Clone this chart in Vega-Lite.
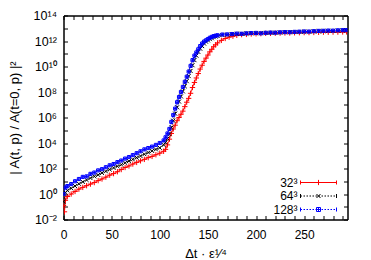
{
  "$schema": "https://vega.github.io/schema/vega-lite/v6.json",
  "width": 284,
  "height": 204,
  "autosize": "none",
  "padding": {"left": 63.5, "top": 15.5, "right": 23.5, "bottom": 40.5},
  "config": {
    "font": "Liberation Sans",
    "view": {"stroke": "#000", "strokeWidth": 1},
    "axis": {"grid": false, "domainColor": "#000", "tickColor": "#000", "labelColor": "#000", "titleColor": "#000", "labelFontSize": 12, "titleFontSize": 13, "titleFontWeight": "normal", "tickSize": -4}
  },
  "datasets": {
    "curves": [
      {"s":"32³","t":0,"a":0.126},{"s":"32³","t":1,"a":0.04},{"s":"32³","t":2,"a":0.32},{"s":"32³","t":4,"a":0.63},{"s":"32³","t":8,"a":1.0},{"s":"32³","t":12,"a":1.58},{"s":"32³","t":16,"a":2.4},{"s":"32³","t":20,"a":3.3},{"s":"32³","t":24,"a":4.5},{"s":"32³","t":28,"a":6.0},{"s":"32³","t":32,"a":7.9},{"s":"32³","t":36,"a":11.2},{"s":"32³","t":40,"a":15.1},{"s":"32³","t":44,"a":21},{"s":"32³","t":48,"a":30},{"s":"32³","t":52,"a":40},{"s":"32³","t":56,"a":56},{"s":"32³","t":60,"a":83},{"s":"32³","t":64,"a":120},{"s":"32³","t":68,"a":158},{"s":"32³","t":72,"a":224},{"s":"32³","t":76,"a":300},{"s":"32³","t":80,"a":400},{"s":"32³","t":84,"a":520},{"s":"32³","t":88,"a":710},{"s":"32³","t":92,"a":890},{"s":"32³","t":96,"a":1200},{"s":"32³","t":100,"a":1580},{"s":"32³","t":104,"a":2240},{"s":"32³","t":106,"a":3160},{"s":"32³","t":108,"a":7100},{"s":"32³","t":110,"a":2.0e4},{"s":"32³","t":112,"a":5.6e4},{"s":"32³","t":114,"a":1.26e5},{"s":"32³","t":116,"a":2.5e5},{"s":"32³","t":118,"a":5.6e5},{"s":"32³","t":120,"a":1.0e6},{"s":"32³","t":122,"a":1.78e6},{"s":"32³","t":124,"a":3.16e6},{"s":"32³","t":126,"a":7.1e6},{"s":"32³","t":128,"a":1.58e7},{"s":"32³","t":130,"a":3.16e7},{"s":"32³","t":132,"a":7.9e7},{"s":"32³","t":134,"a":2.24e8},{"s":"32³","t":136,"a":5.6e8},{"s":"32³","t":138,"a":1.26e9},{"s":"32³","t":140,"a":2.8e9},{"s":"32³","t":142,"a":6.3e9},{"s":"32³","t":144,"a":1.26e10},{"s":"32³","t":146,"a":2.5e10},{"s":"32³","t":148,"a":4.5e10},{"s":"32³","t":150,"a":7.9e10},{"s":"32³","t":152,"a":1.41e11},{"s":"32³","t":154,"a":2.24e11},{"s":"32³","t":156,"a":3.55e11},{"s":"32³","t":158,"a":5.0e11},{"s":"32³","t":160,"a":7.1e11},{"s":"32³","t":164,"a":1.12e12},{"s":"32³","t":168,"a":1.58e12},{"s":"32³","t":172,"a":2.0e12},{"s":"32³","t":176,"a":2.4e12},{"s":"32³","t":180,"a":2.8e12},{"s":"32³","t":185,"a":3.16e12},{"s":"32³","t":190,"a":3.3e12},{"s":"32³","t":195,"a":3.55e12},{"s":"32³","t":200,"a":3.7e12},{"s":"32³","t":205,"a":3.8e12},{"s":"32³","t":210,"a":4.0e12},{"s":"32³","t":215,"a":4.0e12},{"s":"32³","t":220,"a":4.1e12},{"s":"32³","t":225,"a":4.2e12},{"s":"32³","t":230,"a":4.3e12},{"s":"32³","t":235,"a":4.3e12},{"s":"32³","t":240,"a":4.4e12},{"s":"32³","t":245,"a":4.5e12},{"s":"32³","t":250,"a":4.6e12},{"s":"32³","t":255,"a":4.6e12},{"s":"32³","t":260,"a":4.7e12},{"s":"32³","t":265,"a":4.8e12},{"s":"32³","t":270,"a":4.9e12},{"s":"32³","t":275,"a":4.9e12},{"s":"32³","t":280,"a":5.0e12},{"s":"32³","t":285,"a":5.0e12},{"s":"32³","t":290,"a":5.1e12},{"s":"32³","t":294,"a":5.2e12},
      {"s":"64³","t":0,"a":0.25},{"s":"64³","t":2,"a":1.26},{"s":"64³","t":4,"a":1.9},{"s":"64³","t":8,"a":2.8},{"s":"64³","t":12,"a":4.2},{"s":"64³","t":16,"a":6.3},{"s":"64³","t":20,"a":8.9},{"s":"64³","t":24,"a":12.6},{"s":"64³","t":28,"a":17.8},{"s":"64³","t":32,"a":24},{"s":"64³","t":36,"a":31.6},{"s":"64³","t":40,"a":45},{"s":"64³","t":44,"a":60},{"s":"64³","t":48,"a":83},{"s":"64³","t":52,"a":112},{"s":"64³","t":56,"a":151},{"s":"64³","t":60,"a":200},{"s":"64³","t":64,"a":280},{"s":"64³","t":68,"a":380},{"s":"64³","t":72,"a":520},{"s":"64³","t":76,"a":710},{"s":"64³","t":80,"a":950},{"s":"64³","t":84,"a":1320},{"s":"64³","t":88,"a":1780},{"s":"64³","t":92,"a":2400},{"s":"64³","t":96,"a":3160},{"s":"64³","t":100,"a":4200},{"s":"64³","t":104,"a":7100},{"s":"64³","t":106,"a":1.12e4},{"s":"64³","t":108,"a":2.24e4},{"s":"64³","t":110,"a":5.0e4},{"s":"64³","t":112,"a":1.58e5},{"s":"64³","t":114,"a":5.6e5},{"s":"64³","t":116,"a":2.0e6},{"s":"64³","t":118,"a":6.3e6},{"s":"64³","t":120,"a":1.78e7},{"s":"64³","t":122,"a":4.5e7},{"s":"64³","t":124,"a":1.12e8},{"s":"64³","t":126,"a":2.8e8},{"s":"64³","t":128,"a":7.1e8},{"s":"64³","t":130,"a":1.78e9},{"s":"64³","t":132,"a":4.5e9},{"s":"64³","t":134,"a":1.26e10},{"s":"64³","t":136,"a":3.16e10},{"s":"64³","t":138,"a":7.1e10},{"s":"64³","t":140,"a":1.41e11},{"s":"64³","t":142,"a":2.5e11},{"s":"64³","t":144,"a":4.0e11},{"s":"64³","t":146,"a":6.3e11},{"s":"64³","t":148,"a":8.9e11},{"s":"64³","t":150,"a":1.12e12},{"s":"64³","t":152,"a":1.41e12},{"s":"64³","t":154,"a":1.66e12},{"s":"64³","t":156,"a":2.0e12},{"s":"64³","t":158,"a":2.24e12},{"s":"64³","t":160,"a":2.5e12},{"s":"64³","t":165,"a":2.95e12},{"s":"64³","t":170,"a":3.16e12},{"s":"64³","t":175,"a":3.4e12},{"s":"64³","t":180,"a":3.6e12},{"s":"64³","t":185,"a":3.7e12},{"s":"64³","t":190,"a":3.8e12},{"s":"64³","t":195,"a":4.0e12},{"s":"64³","t":200,"a":4.1e12},{"s":"64³","t":205,"a":4.1e12},{"s":"64³","t":210,"a":4.3e12},{"s":"64³","t":215,"a":4.4e12},{"s":"64³","t":220,"a":4.5e12},{"s":"64³","t":225,"a":4.6e12},{"s":"64³","t":230,"a":4.8e12},{"s":"64³","t":235,"a":4.9e12},{"s":"64³","t":240,"a":5.0e12},{"s":"64³","t":245,"a":5.2e12},{"s":"64³","t":250,"a":5.3e12},{"s":"64³","t":255,"a":5.4e12},{"s":"64³","t":260,"a":5.6e12},{"s":"64³","t":265,"a":5.8e12},{"s":"64³","t":270,"a":6.0e12},{"s":"64³","t":275,"a":6.2e12},{"s":"64³","t":280,"a":6.3e12},{"s":"64³","t":285,"a":6.5e12},{"s":"64³","t":290,"a":6.8e12},{"s":"64³","t":294,"a":6.9e12},
      {"s":"128³","t":0,"a":1.0},{"s":"128³","t":2,"a":3.2},{"s":"128³","t":4,"a":4.2},{"s":"128³","t":8,"a":6.0},{"s":"128³","t":12,"a":10},{"s":"128³","t":16,"a":15},{"s":"128³","t":20,"a":22},{"s":"128³","t":24,"a":24},{"s":"128³","t":28,"a":38},{"s":"128³","t":32,"a":48},{"s":"128³","t":36,"a":71},{"s":"128³","t":40,"a":89},{"s":"128³","t":44,"a":126},{"s":"128³","t":48,"a":178},{"s":"128³","t":52,"a":224},{"s":"128³","t":56,"a":316},{"s":"128³","t":60,"a":420},{"s":"128³","t":64,"a":600},{"s":"128³","t":68,"a":790},{"s":"128³","t":72,"a":1120},{"s":"128³","t":76,"a":1580},{"s":"128³","t":80,"a":2240},{"s":"128³","t":84,"a":3160},{"s":"128³","t":88,"a":4000},{"s":"128³","t":92,"a":5200},{"s":"128³","t":96,"a":7100},{"s":"128³","t":100,"a":1.0e4},{"s":"128³","t":104,"a":1.58e4},{"s":"128³","t":106,"a":2.8e4},{"s":"128³","t":108,"a":5.6e4},{"s":"128³","t":110,"a":1.26e5},{"s":"128³","t":112,"a":4.5e5},{"s":"128³","t":114,"a":1.58e6},{"s":"128³","t":116,"a":5.0e6},{"s":"128³","t":118,"a":1.58e7},{"s":"128³","t":120,"a":4.0e7},{"s":"128³","t":122,"a":1.0e8},{"s":"128³","t":124,"a":2.5e8},{"s":"128³","t":126,"a":6.3e8},{"s":"128³","t":128,"a":1.58e9},{"s":"128³","t":130,"a":4.0e9},{"s":"128³","t":132,"a":1.12e10},{"s":"128³","t":134,"a":3.16e10},{"s":"128³","t":136,"a":7.1e10},{"s":"128³","t":138,"a":1.26e11},{"s":"128³","t":140,"a":2.24e11},{"s":"128³","t":142,"a":4.0e11},{"s":"128³","t":144,"a":6.3e11},{"s":"128³","t":146,"a":8.9e11},{"s":"128³","t":148,"a":1.12e12},{"s":"128³","t":150,"a":1.41e12},{"s":"128³","t":152,"a":1.78e12},{"s":"128³","t":154,"a":2.1e12},{"s":"128³","t":156,"a":2.4e12},{"s":"128³","t":158,"a":2.6e12},{"s":"128³","t":160,"a":2.8e12},{"s":"128³","t":165,"a":3.2e12},{"s":"128³","t":170,"a":3.3e12},{"s":"128³","t":175,"a":3.5e12},{"s":"128³","t":180,"a":3.8e12},{"s":"128³","t":185,"a":3.7e12},{"s":"128³","t":190,"a":4.0e12},{"s":"128³","t":195,"a":4.2e12},{"s":"128³","t":200,"a":4.3e12},{"s":"128³","t":205,"a":4.0e12},{"s":"128³","t":210,"a":4.4e12},{"s":"128³","t":215,"a":4.6e12},{"s":"128³","t":220,"a":4.5e12},{"s":"128³","t":225,"a":4.8e12},{"s":"128³","t":230,"a":5.0e12},{"s":"128³","t":235,"a":4.9e12},{"s":"128³","t":240,"a":5.2e12},{"s":"128³","t":245,"a":5.4e12},{"s":"128³","t":250,"a":5.6e12},{"s":"128³","t":255,"a":5.5e12},{"s":"128³","t":260,"a":5.9e12},{"s":"128³","t":265,"a":6.2e12},{"s":"128³","t":270,"a":6.3e12},{"s":"128³","t":275,"a":6.6e12},{"s":"128³","t":280,"a":6.5e12},{"s":"128³","t":285,"a":6.9e12},{"s":"128³","t":290,"a":7.1e12},{"s":"128³","t":294,"a":7.2e12}
    ]
  },
  "data": {"name": "curves"},
  "layer": [
    {
      "mark": {"type": "line", "strokeWidth": 1, "clip": true},
      "encoding": {
        "x": {"field": "t", "type": "quantitative", "scale": {"domain": [0, 295], "nice": false, "zero": false},
          "axis": {"orient": "bottom", "values": [0,10,20,30,40,50,60,70,80,90,100,110,120,130,140,150,160,170,180,190,200,210,220,230,240,250,260,270,280,290],
            "labelExpr": "datum.value % 50 == 0 ? datum.label : ''", "labelFlush": false, "labelPadding": 14,
            "title": "Δt · ε¹⁄⁴", "titleY": 38, "titleBaseline": "alphabetic"}},
        "y": {"field": "a", "type": "quantitative", "scale": {"type": "log", "domain": [0.01, 1e14], "nice": false},
          "axis": {"orient": "left", "values": [0.01,0.1,1,10,100,1000,1e4,1e5,1e6,1e7,1e8,1e9,1e10,1e11,1e12,1e13,1e14],
            "labelExpr": "abs(round(log(datum.value)/LN10)) % 2 == 1 ? '' : '10' + replace(replace(replace(replace(replace(replace(replace('' + round(log(datum.value)/LN10), '-', '⁻'), '0', '⁰'), '1', '¹'), '2', '²'), '4', '⁴'), '6', '⁶'), '8', '⁸')",
            "labelPadding": 11, "labelFlush": false, "labelFontSize": 12.5,
            "title": "| A(t, p) / A(t=0, p) |²", "titleX": -49, "titleY": 102, "titleAlign": "center", "titleBaseline": "middle"}},
        "color": {"field": "s", "type": "nominal", "scale": {"domain": ["32³","64³","128³"], "range": ["#ff0000","#000000","#0000ff"]}, "legend": null},
        "strokeDash": {"field": "s", "type": "nominal", "scale": {"domain": ["32³","64³","128³"], "range": [[1,0],[1.5,1.5],[1.5,1.5]]}, "legend": null}
      }
    },
    {
      "mark": {"type": "point", "filled": false, "strokeWidth": 1, "size": 20, "opacity": 1, "clip": true},
      "encoding": {
        "x": {"field": "t", "type": "quantitative", "axis": {"orient": "top", "values": [0,10,20,30,40,50,60,70,80,90,100,110,120,130,140,150,160,170,180,190,200,210,220,230,240,250,260,270,280,290], "labels": false, "title": null}},
        "y": {"field": "a", "type": "quantitative", "axis": {"orient": "right", "values": [0.01,0.1,1,10,100,1000,1e4,1e5,1e6,1e7,1e8,1e9,1e10,1e11,1e12,1e13,1e14], "labels": false, "title": null}},
        "color": {"field": "s", "type": "nominal", "scale": {"domain": ["32³","64³","128³"], "range": ["#ff0000","#000000","#0000ff"]}, "legend": null},
        "shape": {"field": "s", "type": "nominal", "scale": {"domain": ["32³","64³","128³"], "range": ["M-1.2,0H1.2M0,-1.2V1.2", "M-0.9,-0.9L0.9,0.9M-0.9,0.9L0.9,-0.9", "M-0.7,-0.7H0.7V0.7H-0.7ZM-0.7,0H0.7M0,-0.7V0.7"]}, "legend": null}
      }
    },
    {
      "transform": [{"filter": "datum.t == 0"}],
      "mark": {"type": "point", "filled": false, "strokeWidth": 1, "size": 16, "opacity": 0},
      "encoding": {
        "x": {"field": "t", "type": "quantitative", "axis": null},
        "y": {"field": "a", "type": "quantitative", "axis": null},
        "color": {"field": "s", "type": "nominal", "scale": {"domain": ["32³","64³","128³"], "range": ["#ff0000","#000000","#0000ff"]},
          "legend": {"title": null, "orient": "none", "legendX": 249, "legendY": 161, "labelAlign": "right", "labelOffset": -27, "labelFontSize": 12, "labelColor": "#000", "rowPadding": 1.5, "symbolStrokeWidth": 1, "symbolSize": 16, "symbolOpacity": 1, "padding": 0}},
        "shape": {"field": "s", "type": "nominal", "scale": {"domain": ["32³","64³","128³"], "range": [
          "M-9,0H9M-9,-1V1M9,-1V1M0,-1.3V1.3",
          "M-9,0H-8.25M-7.5,0H-6.75M-6,0H-5.25M-4.5,0H-3.75M-3,0H-2.25M-1.5,0H-0.75M0,0H0.75M1.5,0H2.25M3,0H3.75M4.5,0H5.25M6,0H6.75M7.5,0H8.25M-9,-1V1M9,-1V1M-1,-1L1,1M-1,1L1,-1",
          "M-9,0H-8.25M-7.5,0H-6.75M-6,0H-5.25M-4.5,0H-3.75M-3,0H-2.25M-1.5,0H-0.75M0,0H0.75M1.5,0H2.25M3,0H3.75M4.5,0H5.25M6,0H6.75M7.5,0H8.25M-9,-1V1M9,-1V1M-1,-1H1V1H-1ZM0,-1V1M-1,0H1"
        ]}}
      }
    }
  ],
  "resolve": {"axis": {"x": "independent", "y": "independent"}, "scale": {"shape": "independent", "color": "independent", "strokeDash": "independent"}}
}
